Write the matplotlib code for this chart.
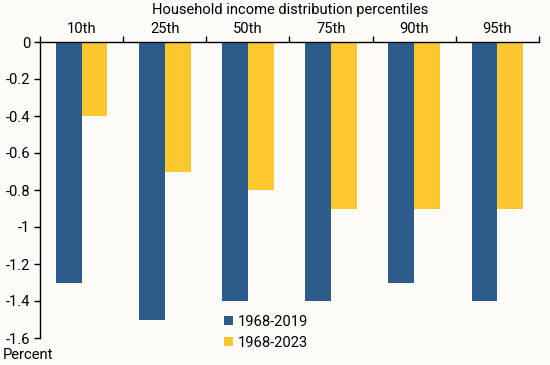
import numpy as np
import matplotlib
matplotlib.use('Agg')
import matplotlib.pyplot as plt
from matplotlib.ticker import FuncFormatter

# --- data ---
percentiles = ["10th", "25th", "50th", "75th", "90th", "95th"]
series_labels = ["1968-2019", "1968-2023"]
vals_2019 = [-1.3, -1.5, -1.4, -1.4, -1.3, -1.4]
vals_2023 = [-0.4, -0.7, -0.8, -0.9, -0.9, -0.9]
y_ticks = [0, -0.2, -0.4, -0.6, -0.8, -1.0, -1.2, -1.4, -1.6]

# --- style ---
BG = "#FCFBF8"
BLUE = "#2E5C8A"
YELLOW = "#FDC82F"
plt.rcParams['font.family'] = ['Roboto', 'DejaVu Sans']
FS = 10.6

fig = plt.figure(figsize=(5.5, 3.65), dpi=100, facecolor=BG)
ax = fig.add_axes([40 / 550, 1 - 338 / 365, 499 / 550, 296 / 365])
ax.set_facecolor(BG)

x = np.arange(len(percentiles))
w = 0.31
ax.bar(x - w / 2, vals_2019, w, color=BLUE, label=series_labels[0])
ax.bar(x + w / 2, vals_2023, w, color=YELLOW, label=series_labels[1])

ax.set_xlim(-0.5, len(percentiles) - 0.5)
ax.set_ylim(-1.6, 0)

# zero line on top with category labels above
ax.xaxis.tick_top()
ax.set_xticks(np.arange(len(percentiles) + 1) - 0.5)
ax.set_xticklabels([])
ax.set_xticks(x, minor=True)
ax.set_xticklabels(percentiles, minor=True, fontsize=FS)
ax.tick_params(axis='x', which='major', direction='out', length=4, width=1, top=True, bottom=False)
ax.tick_params(axis='x', which='minor', length=0, pad=4, top=True, bottom=False)

ax.set_yticks(y_ticks)
ax.yaxis.set_major_formatter(FuncFormatter(lambda v, p: "0" if v == 0 else f"{v:g}".replace("\u2212", "-")))
ax.tick_params(axis='y', direction='out', length=4, width=1, labelsize=FS, pad=3)

for s in ['right', 'bottom']:
    ax.spines[s].set_visible(False)
for s in ['left', 'top']:
    ax.spines[s].set_linewidth(1)
    ax.spines[s].set_color('black')

fig.text(290 / 550, 1 - 10 / 365, "Household income distribution percentiles",
         ha='center', va='center', fontsize=FS)
fig.text(3 / 550, 1 - 355 / 365, "Percent", ha='left', va='center', fontsize=FS)

leg = ax.legend(loc='upper left', bbox_to_anchor=((224 - 40) / 499, 1 - (315 - 42) / 296),
                bbox_transform=ax.transAxes, frameon=False, fontsize=FS,
                handlelength=0.6, handleheight=0.6, handletextpad=0.35, labelspacing=0.45,
                borderaxespad=0, borderpad=0)

plt.savefig("out.png", facecolor=BG)
